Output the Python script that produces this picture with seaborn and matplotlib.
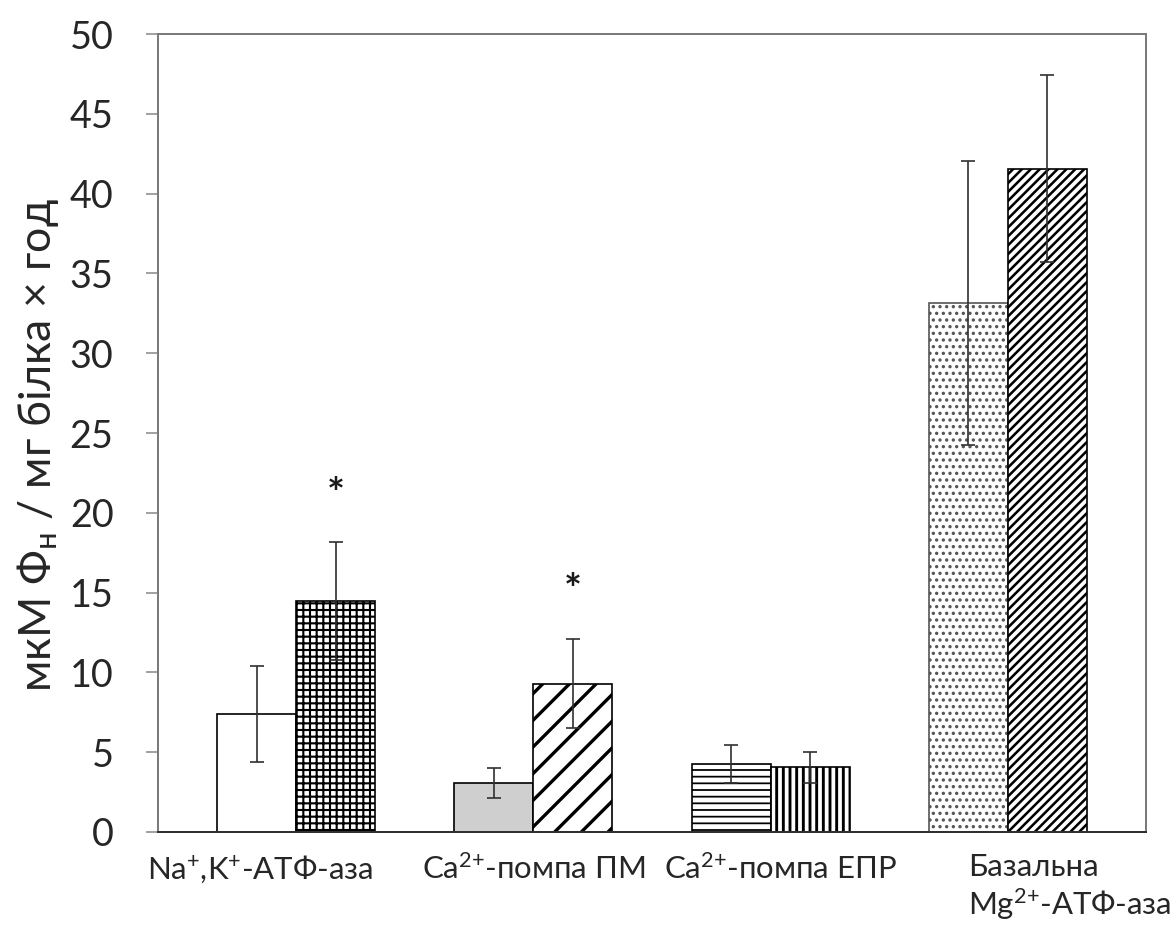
import matplotlib
matplotlib.use("Agg")
import matplotlib.pyplot as plt
import matplotlib.transforms as mtransforms
import pandas as pd
import seaborn as sns

# ---- data -------------------------------------------------------------
categories = [
    "Na$^{+}$,K$^{+}$-АТФ-аза",
    "Ca$^{2{+}}$-помпа ПМ",
    "Ca$^{2{+}}$-помпа ЕПР",
    "Базальна\nMg$^{2{+}}$-АТФ-аза",
]
groups = ["контроль", "дослід"]
control_mean = [7.4, 3.05, 4.25, 33.15]
control_err = [3.0, 0.95, 1.2, 8.9]
treated_mean = [14.45, 9.3, 4.05, 41.55]
treated_err = [3.7, 2.8, 0.95, 5.85]
significant = [True, True, False, False]
y_ticks = [0, 5, 10, 15, 20, 25, 30, 35, 40, 45, 50]
y_label = "мкМ Ф$_{\\mathregular{н}}$ / мг білка × год"

# fill colour, hatch, hatch line width, edge colour for each bar
control_style = [
    ("white", "", 1.0, "black"),
    ("#cfcfcf", "", 1.0, "black"),
    ("white", "--", 1.6, "black"),
    ("white", "..", 1.8, "#555555"),
]
treated_style = [
    ("white", "++", 1.9, "black"),
    ("white", "/", 3.0, "black"),
    ("white", "||", 2.6, "black"),
    ("white", "///", 2.3, "black"),
]

df = pd.DataFrame({
    "category": categories * 2,
    "group": [groups[0]] * 4 + [groups[1]] * 4,
    "value": control_mean + treated_mean,
})

# ---- figure -------------------------------------------------------------
sns.set_style("white")
plt.rcParams["font.family"] = ["Lato", "DejaVu Sans"]
plt.rcParams["mathtext.fontset"] = "custom"
plt.rcParams["mathtext.rm"] = "Lato"
plt.rcParams["mathtext.it"] = "Lato"
plt.rcParams["mathtext.bf"] = "Lato:bold"

DPI = 80
fig = plt.figure(figsize=(1174 / DPI, 931 / DPI), dpi=DPI)
ax = fig.add_axes([158 / 1174, 99 / 931, 988 / 1174, 798 / 931])

sns.barplot(data=df, x="category", y="value", hue="group", order=categories,
            hue_order=groups, errorbar=None, width=0.666, gap=0,
            legend=False, ax=ax)

for container, styles in zip(ax.containers, [control_style, treated_style]):
    for bar, (fc, hatch, hlw, ec) in zip(container, styles):
        bar.set_facecolor(fc)
        bar.set_edgecolor(ec)
        bar.set_linewidth(1.5)
        bar.set_hatch(hatch)
        if hasattr(bar, "set_hatch_linewidth"):
            bar.set_hatch_linewidth(hlw)

# error bars at the bar centres
for container, means, errs in zip(ax.containers, [control_mean, treated_mean],
                                  [control_err, treated_err]):
    xs = [b.get_x() + b.get_width() / 2 for b in container]
    ax.errorbar(xs, means, yerr=errs, fmt="none", ecolor="#303030",
                elinewidth=1.5, capsize=6, capthick=1.5, zorder=4)

# significance marks above the treated bars
for bar, m, e, sig in zip(ax.containers[1], treated_mean, treated_err, significant):
    if sig:
        ax.annotate("*", (bar.get_x() + bar.get_width() / 2, m + e + 3.8),
                    xytext=(0, -14), textcoords="offset pixels",
                    ha="center", va="center", fontsize=38, fontweight="bold",
                    color="#1a1a1a")

# ---- axes styling -----------------------------------------------------------
ax.set_xlim(-0.582, 3.582)
ax.set_ylim(0, 50)
ax.set_yticks(y_ticks)
ax.set_xlabel("")
ax.set_ylabel(y_label, fontsize=40, labelpad=8)
ax.yaxis.label.set_y(0.485)
ax.tick_params(axis="y", which="major", direction="out", length=11, width=1.4,
               color="#8a8a8a", labelsize=34, pad=29, left=True)
ax.tick_params(axis="x", length=0, labelsize=28, pad=19)

for side in ["top", "right", "left"]:
    ax.spines[side].set_visible(True)
    ax.spines[side].set_color("#7a7a7a")
    ax.spines[side].set_linewidth(1.8)
ax.spines["bottom"].set_color("#303030")
ax.spines["bottom"].set_linewidth(1.8)

# shift the category labels sideways to their places under the groups
offsets_px = [-36, 0, 10, -40]
for lab, dx in zip(ax.get_xticklabels(), offsets_px):
    lab.set_transform(lab.get_transform() +
                      mtransforms.ScaledTranslation(dx / DPI, 0, fig.dpi_scale_trans))
    lab.set_verticalalignment("top")
labs = ax.get_xticklabels()
labs[3].set_horizontalalignment("left")
labs[3].set_multialignment("left")

fig.savefig("out.png", dpi=DPI, facecolor="white")
